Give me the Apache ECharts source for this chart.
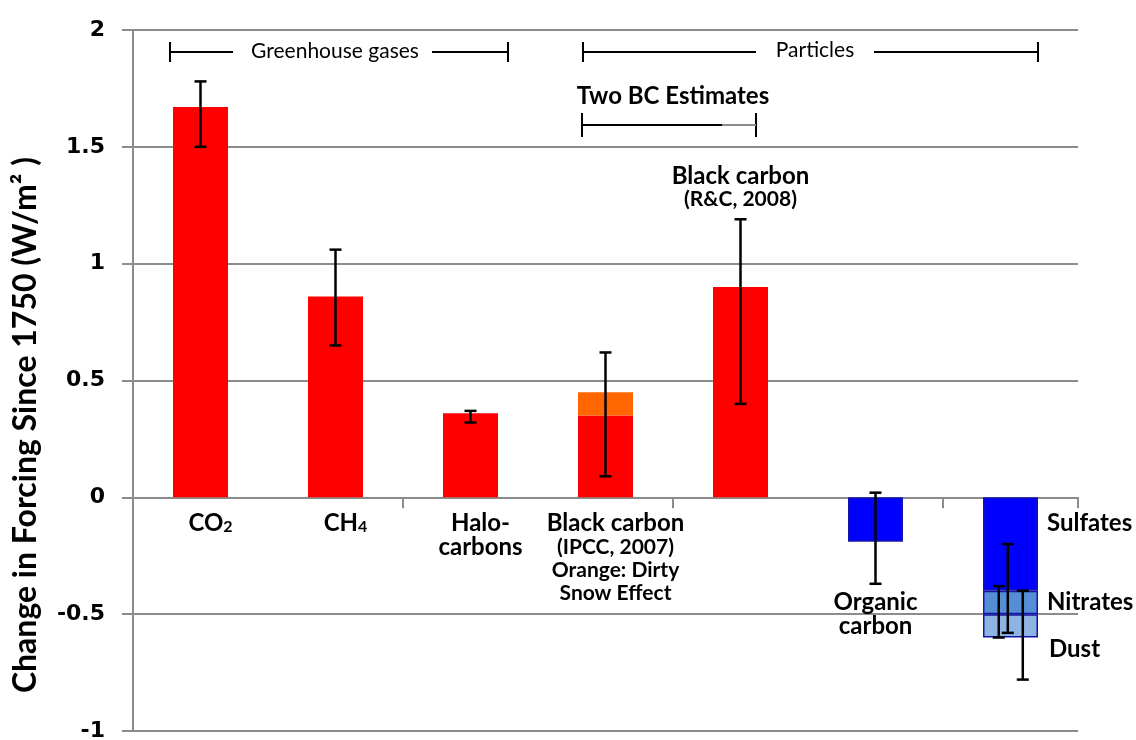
<!DOCTYPE html>
<html>
<head>
<meta charset="utf-8">
<style>
  html, body { margin: 0; padding: 0; background: #fff; }
  #chart { width: 1136px; height: 740px; }
</style>
<script src="https://cdn.jsdelivr.net/npm/echarts@6/dist/echarts.min.js"></script>
</head>
<body>
<div id="chart"></div>
<script>
// Radiative forcing agents, change since 1750 (W/m^2)
const categories = ['CO2', 'CH4', 'Halocarbons', 'Black carbon (IPCC, 2007)', 'Black carbon (R&C, 2008)', 'Organic carbon', 'Sulfates, nitrates, dust'];

// Bar segments
const warming   = [1.67, 0.86, 0.36, 0.35, 0.90, '-', '-'];
const dirtySnow = ['-', '-', '-', 0.10, '-', '-', '-'];
const cooling   = ['-', '-', '-', '-', '-', -0.19, -0.40];
const nitrates  = ['-', '-', '-', '-', '-', '-', -0.10];
const dust      = ['-', '-', '-', '-', '-', '-', -0.10];

// Uncertainty ranges [low, high]
const errLow  = [1.50, 0.65, 0.32, 0.09, 0.40, -0.37];
const errHigh = [1.78, 1.06, 0.37, 0.62, 1.19, 0.02];
const sulfateRange = [-0.58, -0.20];
const nitrateRange = [-0.60, -0.38];
const dustRange    = [-0.78, -0.40];

// Y axis ticks
const yMin = -1, yMax = 2, yStep = 0.5;

const FONT = 'Lato, "Open Sans", sans-serif';
const GRAY = '#8c8c8c';

const chart = echarts.init(document.getElementById('chart'), null, { renderer: 'canvas' });

function errorBars(shiftFrac) {
  return function (params, api) {
    const idx = api.value(0);
    const lo = api.coord([idx, api.value(1)]);
    const hi = api.coord([idx, api.value(2)]);
    const band = api.size([1, 0])[0];
    const x = lo[0] + shiftFrac * band;
    const hw = 6;
    const st = { stroke: '#000', lineWidth: 2.5 };
    return {
      type: 'group',
      children: [
        { type: 'line', shape: { x1: x, y1: lo[1], x2: x, y2: hi[1] }, style: st },
        { type: 'line', shape: { x1: x - hw, y1: lo[1], x2: x + hw, y2: lo[1] }, style: st },
        { type: 'line', shape: { x1: x - hw, y1: hi[1], x2: x + hw, y2: hi[1] }, style: st }
      ]
    };
  };
}

const bigStyle = { fontFamily: FONT, fontWeight: 'bold', fontSize: 24, lineHeight: 24, color: '#000' };
const smallStyle = { fontFamily: FONT, fontWeight: 'bold', fontSize: 21, lineHeight: 23, color: '#000' };
const subStyle = { fontFamily: FONT, fontWeight: 'bold', fontSize: 16, lineHeight: 10, verticalAlign: 'bottom', color: '#000' };
const richAll = { b: bigStyle, s: smallStyle, sub: subStyle };

// Category captions drawn under the zero line
const categoryCaptions = [
  '{b|CO}{sub|2}',
  '{b|CH}{sub|4}',
  '{b|Halo-}\n{b|carbons}',
  '{b|Black carbon}\n{s|(IPCC, 2007)}\n{s|Orange: Dirty}\n{s|Snow Effect}'
];

const warmingData = warming.map((v, i) => {
  if (i < categoryCaptions.length) return {
    value: v,
    label: {
      show: true, position: 'bottom', distance: 14, offset: [10, 0],
      formatter: categoryCaptions[i], rich: richAll
    }
  };
  if (i === 4) return {
    value: v,
    label: {
      show: true, position: 'top', distance: 76,
      formatter: '{b|Black carbon}\n{s|(R&C, 2008)}', rich: richAll
    }
  };
  return v;
});

const coolingData = cooling.map((v, i) => {
  if (i === 5) return {
    value: v,
    label: {
      show: true, position: 'bottom', distance: 49,
      formatter: '{b|Organic}\n{b|carbon}', rich: richAll
    }
  };
  if (i === 6) return {
    value: v,
    label: {
      show: true, position: 'right', distance: 9, offset: [0, -21],
      formatter: '{b|Sulfates}', rich: richAll
    }
  };
  return v;
});

const nitrateData = nitrates.map((v, i) => i === 6 ? {
  value: v,
  label: { show: true, position: 'right', distance: 9, formatter: '{b|Nitrates}', rich: richAll }
} : v);

const dustData = dust.map((v, i) => i === 6 ? {
  value: v,
  label: { show: true, position: 'right', distance: 11, offset: [0, 23], formatter: '{b|Dust}', rich: richAll }
} : v);

const blueBorder = { borderColor: '#1414a8', borderWidth: 1.5 };

const option = {
  animation: false,
  backgroundColor: '#fff',
  grid: { left: 133, right: 58, top: 30, bottom: 9, containLabel: false, outerBoundsMode: 'none' },
  xAxis: {
    type: 'category',
    data: categories,
    axisLine: { onZero: true, lineStyle: { color: GRAY, width: 2 } },
    axisTick: { show: true, length: 11, lineStyle: { color: GRAY, width: 2 } },
    axisLabel: { show: false },
    splitLine: { show: false }
  },
  yAxis: {
    type: 'value',
    min: yMin, max: yMax, interval: yStep,
    axisLine: { show: true, lineStyle: { color: GRAY, width: 2 } },
    axisTick: { show: true, length: 11, lineStyle: { color: GRAY, width: 2 } },
    axisLabel: {
      margin: 28,
      fontFamily: '"DejaVu Sans", sans-serif',
      fontWeight: 'bold',
      fontSize: 22,
      color: '#000'
    },
    splitLine: { show: true, lineStyle: { color: GRAY, width: 2 } }
  },
  series: [
    { name: 'Warming', type: 'bar', stack: 'f', barWidth: 55, data: warmingData,
      itemStyle: { color: '#ff0000' } },
    { name: 'Dirty snow', type: 'bar', stack: 'f', barWidth: 55, data: dirtySnow,
      itemStyle: { color: '#ff6600' } },
    { name: 'Organic carbon / Sulfates', type: 'bar', stack: 'f', barWidth: 55, data: coolingData,
      itemStyle: Object.assign({ color: '#0000ff' }, blueBorder) },
    { name: 'Nitrates', type: 'bar', stack: 'f', barWidth: 55, data: nitrateData,
      itemStyle: Object.assign({ color: '#558ed5' }, blueBorder) },
    { name: 'Dust', type: 'bar', stack: 'f', barWidth: 55, data: dustData,
      itemStyle: Object.assign({ color: '#8db4e2' }, blueBorder) },
    { name: 'Uncertainty', type: 'custom', z: 10,
      renderItem: errorBars(0), encode: { x: 0, y: [1, 2] },
      data: errLow.map((lo, i) => [i, lo, errHigh[i]]) },
    { name: 'Sulfate range', type: 'custom', z: 10,
      renderItem: errorBars(-0.02), encode: { x: 0, y: [1, 2] },
      data: [[6, sulfateRange[0], sulfateRange[1]]] },
    { name: 'Nitrate range', type: 'custom', z: 10,
      renderItem: errorBars(-0.087), encode: { x: 0, y: [1, 2] },
      data: [[6, nitrateRange[0], nitrateRange[1]]] },
    { name: 'Dust range', type: 'custom', z: 10,
      renderItem: errorBars(0.091), encode: { x: 0, y: [1, 2] },
      data: [[6, dustRange[0], dustRange[1]]] }
  ]
};

chart.setOption(option);

// Group brackets and axis title
function bracket(x1, x2, y, half, segs) {
  const ln = (a, b, c, d, color) => ({
    type: 'line', silent: true, z: 20,
    shape: { x1: a, y1: b, x2: c, y2: d },
    style: { stroke: color || '#000', lineWidth: 2 }
  });
  const els = [ln(x1, y - half, x1, y + half), ln(x2, y - half, x2, y + half)];
  segs.forEach(s => els.push(ln(s[0], y, s[1], y, s[2])));
  return els;
}

const txt = (text, x, y, size, weight) => ({
  type: 'text', silent: true, z: 20, x: x, y: y,
  style: {
    text: text, fill: '#000', align: 'center', verticalAlign: 'middle',
    font: weight + ' ' + size + 'px ' + FONT
  }
});

const graphics = []
  .concat(bracket(170, 508, 52, 10, [[170, 233], [432, 508]]))
  .concat(bracket(583, 1038, 52, 10, [[583, 756], [874, 1038]]))
  .concat(bracket(582, 756, 125, 12, [[582, 722], [722, 756, GRAY]]));
graphics.push(txt('Greenhouse gases', 335, 51, 21, 'normal'));
graphics.push(txt('Particles', 815, 50, 21, 'normal'));
graphics.push(txt('Two BC Estimates', 673, 96, 24, 'bold'));
graphics.push({
  type: 'text', silent: true, z: 20, x: 26, y: 425, rotation: Math.PI / 2,
  style: {
    text: 'Change in Forcing Since 1750 (W/m\u00b2 )', fill: '#000',
    align: 'center', verticalAlign: 'middle',
    font: 'bold 32px ' + FONT
  }
});

chart.setOption({ graphic: graphics });
</script>
</body>
</html>
